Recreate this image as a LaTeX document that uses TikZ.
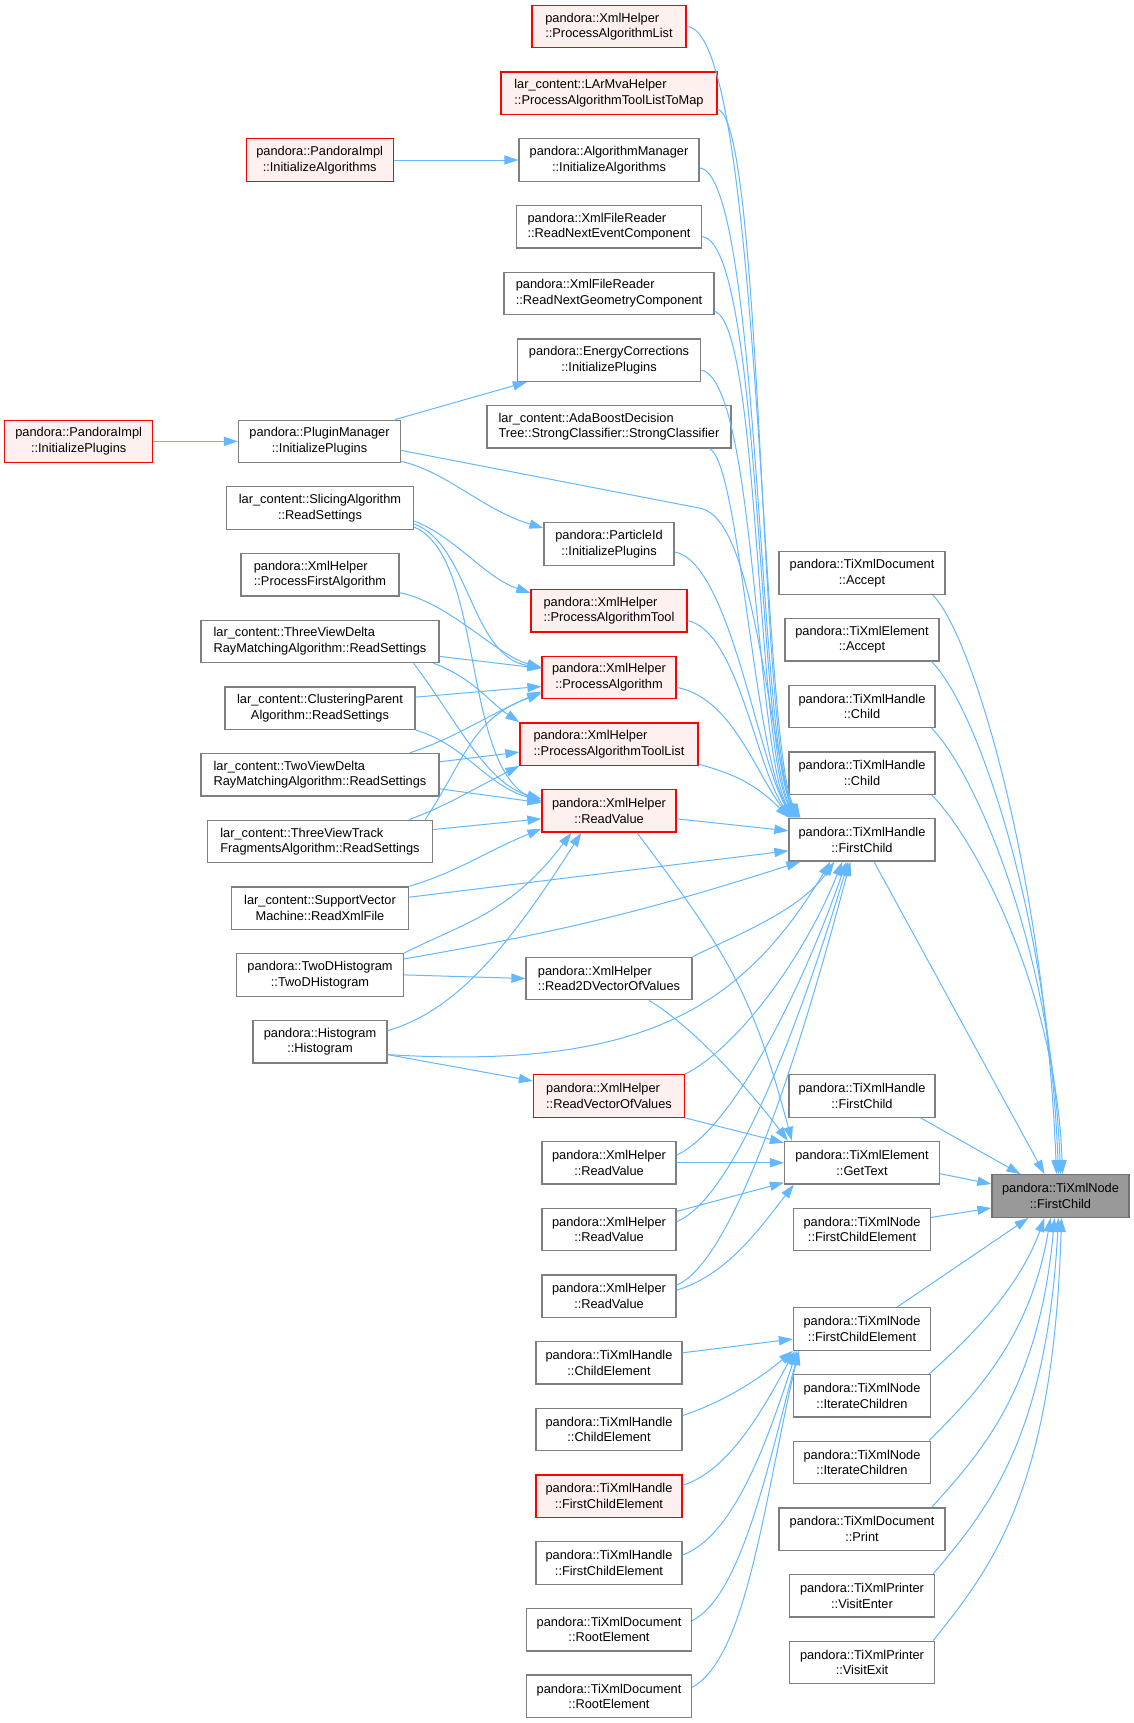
\documentclass[tikz,border=0pt]{standalone}
\usepackage{fontspec}
\setmainfont{Liberation Sans}
\usepackage{tikz}
\usetikzlibrary{arrows.meta}
\definecolor{edgeblue}{HTML}{63B8FF}
\definecolor{linegray}{HTML}{7F7F7F}
\definecolor{pinkfill}{HTML}{FFF0F0}
\definecolor{hubfill}{HTML}{999999}
\tikzstyle{graybox} = [rectangle, draw=linegray, fill=white, line width=0.65pt, minimum height=21.25pt, inner sep=0pt, align=center, font=\fontsize{6.4}{7.8}\selectfont]
\tikzstyle{redbox} = [graybox, draw=red, fill=pinkfill]
\tikzstyle{hubbox} = [graybox, draw=linegray!90!black, fill=hubfill]
\tikzstyle{arrow} = [draw=edgeblue, line width=0.5pt, ->, >={Triangle[length=7pt,width=4.6pt]}]

\begin{document}
\begin{tikzpicture}[x=0.5pt, y=-0.5pt, node distance=33.35pt]
      \useasboundingbox (0,0) rectangle (1134,1723);
      \fill [white] (0,0) rectangle (1134,1723);

      % middle column
      \node (procAlgList) [redbox, minimum width=77pt, align=left] at (609,26.6) {pandora::XmlHelper\\::ProcessAlgorithmList};
      \node (mvaToolMap) [redbox, minimum width=108pt, align=left, below of=procAlgList] {lar\_content::LArMvaHelper\\::ProcessAlgorithmToolListToMap};
      \node (algMgr) [graybox, minimum width=90pt, below of=mvaToolMap] {pandora::AlgorithmManager\\::InitializeAlgorithms};
      \node (readEvent) [graybox, minimum width=92.5pt, align=left, below of=algMgr] {pandora::XmlFileReader\\::ReadNextEventComponent};
      \node (readGeom) [graybox, minimum width=105pt, align=left, below of=readEvent] {pandora::XmlFileReader\\::ReadNextGeometryComponent};
      \node (energyCorr) [graybox, minimum width=91.5pt, below of=readGeom] {pandora::EnergyCorrections\\::InitializePlugins};
      \node (adaBoost) [graybox, minimum width=122pt, align=left, below of=energyCorr] {lar\_content::AdaBoostDecision\\Tree::StrongClassifier::StrongClassifier};

      \node (particleId) [graybox, minimum width=65pt] at (609,544) {pandora::ParticleId\\::InitializePlugins};
      \node (procAlgTool) [redbox, minimum width=78pt, align=left, below of=particleId] {pandora::XmlHelper\\::ProcessAlgorithmTool};
      \node (procAlg) [redbox, minimum width=67pt, below of=procAlgTool] {pandora::XmlHelper\\::ProcessAlgorithm};
      \node (procAlgToolList) [redbox, minimum width=89pt, align=left, below of=procAlg] {pandora::XmlHelper\\::ProcessAlgorithmToolList};
      \node (readValueR) [redbox, minimum width=67pt, below of=procAlgToolList] {pandora::XmlHelper\\::ReadValue};

      \node (read2D) [graybox, minimum width=83pt, align=left] at (609,978.5) {pandora::XmlHelper\\::Read2DVectorOfValues};
      \node (readVec) [redbox, minimum width=75.5pt, align=left] at (609,1096) {pandora::XmlHelper\\::ReadVectorOfValues};
      \node (readValueA) [graybox, minimum width=67pt, below of=readVec] {pandora::XmlHelper\\::ReadValue};
      \node (readValueB) [graybox, minimum width=67pt, below of=readValueA] {pandora::XmlHelper\\::ReadValue};
      \node (readValueC) [graybox, minimum width=67pt, below of=readValueB] {pandora::XmlHelper\\::ReadValue};
      \node (childElemA) [graybox, minimum width=73pt, below of=readValueC] {pandora::TiXmlHandle\\::ChildElement};
      \node (childElemB) [graybox, minimum width=73pt, below of=childElemA] {pandora::TiXmlHandle\\::ChildElement};
      \node (handleFCEa) [redbox, minimum width=73pt, below of=childElemB] {pandora::TiXmlHandle\\::FirstChildElement};
      \node (handleFCEb) [graybox, minimum width=73pt, below of=handleFCEa] {pandora::TiXmlHandle\\::FirstChildElement};
      \node (rootElemA) [graybox, minimum width=82.5pt, below of=handleFCEb] {pandora::TiXmlDocument\\::RootElement};
      \node (rootElemB) [graybox, minimum width=82.5pt, below of=rootElemA] {pandora::TiXmlDocument\\::RootElement};

      % left columns
      \node (pImplAlg) [redbox, minimum width=73.5pt] at (319.7,160) {pandora::PandoraImpl\\::InitializeAlgorithms};
      \node (pImplPlug) [redbox, minimum width=74pt] at (78.7,441.4) {pandora::PandoraImpl\\::InitializePlugins};
      \node (plugMgr) [graybox, minimum width=81pt] at (319.5,441.4) {pandora::PluginManager\\::InitializePlugins};
      \node (slicing) [graybox, minimum width=93.5pt] at (320,508) {lar\_content::SlicingAlgorithm\\::ReadSettings};
      \node (procFirst) [graybox, minimum width=79pt, align=left] at (320,574.7) {pandora::XmlHelper\\::ProcessFirstAlgorithm};
      \node (threeDelta) [graybox, minimum width=119pt, align=left, below of=procFirst] {lar\_content::ThreeViewDelta\\RayMatchingAlgorithm::ReadSettings};
      \node (clustering) [graybox, minimum width=95pt, below of=threeDelta] {lar\_content::ClusteringParent\\Algorithm::ReadSettings};
      \node (twoDelta) [graybox, minimum width=119pt, align=left, below of=clustering] {lar\_content::TwoViewDelta\\RayMatchingAlgorithm::ReadSettings};
      \node (threeTrack) [graybox, minimum width=112.5pt, align=left, below of=twoDelta] {lar\_content::ThreeViewTrack\\FragmentsAlgorithm::ReadSettings};
      \node (svm) [graybox, minimum width=88.5pt, below of=threeTrack] {lar\_content::SupportVector\\Machine::ReadXmlFile};
      \node (twoDHist) [graybox, minimum width=83.5pt, below of=svm] {pandora::TwoDHistogram\\::TwoDHistogram};
      \node (hist) [graybox, minimum width=67pt, below of=twoDHist] {pandora::Histogram\\::Histogram};

      % right column
      \node (docAccept) [graybox, minimum width=83pt] at (862,573) {pandora::TiXmlDocument\\::Accept};
      \node (elemAccept) [graybox, minimum width=77pt, below of=docAccept] {pandora::TiXmlElement\\::Accept};
      \node (handleChildA) [graybox, minimum width=73pt, below of=elemAccept] {pandora::TiXmlHandle\\::Child};
      \node (handleChildB) [graybox, minimum width=73pt, below of=handleChildA] {pandora::TiXmlHandle\\::Child};
      \node (handleFC) [graybox, minimum width=73pt, below of=handleChildB] {pandora::TiXmlHandle\\::FirstChild};
      \node (handleFCb) [graybox, minimum width=73pt] at (862,1096) {pandora::TiXmlHandle\\::FirstChild};
      \node (getText) [graybox, minimum width=77.5pt, below of=handleFCb] {pandora::TiXmlElement\\::GetText};
      \node (nodeFCEa) [graybox, minimum width=68.5pt, below of=getText] {pandora::TiXmlNode\\::FirstChildElement};
      \node (nodeFCEb) [graybox, minimum width=68.5pt] at (862,1329) {pandora::TiXmlNode\\::FirstChildElement};
      \node (iterA) [graybox, minimum width=68.5pt, below of=nodeFCEb] {pandora::TiXmlNode\\::IterateChildren};
      \node (iterB) [graybox, minimum width=68.5pt, below of=iterA] {pandora::TiXmlNode\\::IterateChildren};
      \node (docPrint) [graybox, minimum width=83pt, below of=iterB] {pandora::TiXmlDocument\\::Print};
      \node (visitEnter) [graybox, minimum width=72.5pt, below of=docPrint] {pandora::TiXmlPrinter\\::VisitEnter};
      \node (visitExit) [graybox, minimum width=72.5pt, below of=visitEnter] {pandora::TiXmlPrinter\\::VisitExit};
      \node (firstChild) [hubbox, minimum width=68.5pt] at (1060.5,1196) {pandora::TiXmlNode\\::FirstChild};

      \draw [arrow] (pImplAlg) -- (algMgr);
      \draw [arrow] (pImplPlug) -- (plugMgr);
      \draw [arrow] ([xshift=-3pt]plugMgr.north east) -- ([xshift=5pt]energyCorr.south west);
      \draw [arrow] ([yshift=-10pt]plugMgr.east) .. controls +(45,10) and +(-60,-18) .. ([yshift=-3pt]particleId.north west);

      \draw [arrow] ([yshift=-6.5pt]slicing.east) .. controls +(40,15) and +(-45,-15) .. ([yshift=-2pt]procAlgTool.north west);
      \draw [arrow] ([yshift=-8pt]slicing.east) .. controls +(55,20) and +(-70,-10) .. ([yshift=5pt]procAlg.west);
      \draw [arrow] ([yshift=-9.5pt]slicing.east) .. controls +(70,30) and +(-80,-40) .. ([yshift=4pt]readValueR.west);
      \draw [arrow] ([yshift=-9pt]procFirst.east) .. controls +(50,10) and +(-45,-12) .. ([yshift=5pt]procAlg.west);
      \draw [arrow] ([yshift=-7.5pt]threeDelta.east) -- ([yshift=4.5pt]procAlg.west);
      \draw [arrow] ([xshift=-3pt]threeDelta.south east) .. controls +(40,15) and +(-30,-20) .. (procAlgToolList.north west);
      \draw [arrow] ([xshift=-13pt]threeDelta.south east) .. controls +(45,60) and +(-55,-15) .. ([yshift=6pt]readValueR.west);
      \draw [arrow] ([yshift=5.5pt]clustering.east) -- ([yshift=-4.5pt]procAlg.west);
      \draw [arrow] (clustering.south east) .. controls +(50,15) and +(-55,-15) .. ([yshift=5pt]readValueR.west);
      \draw [arrow] ([xshift=-15pt]twoDelta.north east) .. controls +(45,-15) and +(-65,30) .. ([yshift=-7pt]procAlg.west);
      \draw [arrow] ([yshift=6.5pt]twoDelta.east) -- ([yshift=-4pt]procAlgToolList.west);
      \draw [arrow] ([yshift=-7pt]twoDelta.east) -- ([yshift=4pt]readValueR.west);
      \draw [arrow] ([xshift=-4pt]threeTrack.north east) .. controls +(40,-60) and +(-70,25) .. ([yshift=-8pt]procAlg.west);
      \draw [arrow] ([xshift=-12pt]threeTrack.north east) .. controls +(40,-15) and +(-50,25) .. (procAlgToolList.south west);
      \draw [arrow] ([yshift=6pt]threeTrack.east) -- ([yshift=-4pt]readValueR.west);
      \draw [arrow] (svm.north east) .. controls +(50,-15) and +(-60,25) .. ([yshift=2pt]readValueR.south west);
      \draw [arrow] (twoDHist.north east) .. controls +(60,-30) and +(-60,80) .. ([xshift=15pt]readValueR.south west);
      \draw [arrow] ([yshift=5.5pt]hist.east) .. controls +(70,-20) and +(-70,110) .. ([xshift=20pt]readValueR.south west);
      \draw [arrow] (twoDHist.east) -- (read2D.west);
      \draw [arrow] ([yshift=-6.5pt]hist.east) -- ([yshift=7.5pt]readVec.west);

      % callers of TiXmlHandle::FirstChild
      \draw [arrow] (procAlgList.east) .. controls +(75,0) and +(-40,-70) .. ([xshift=6pt]handleFC.north west);
      \draw [arrow] ([yshift=-8pt]mvaToolMap.east) .. controls +(45,10) and +(-40,-70) .. ([xshift=5.5pt]handleFC.north west);
      \draw [arrow] ([yshift=-4pt]algMgr.east) .. controls +(60,5) and +(-40,-70) .. ([xshift=5pt]handleFC.north west);
      \draw [arrow] ([yshift=-5pt]readEvent.east) .. controls +(60,5) and +(-40,-65) .. ([xshift=4.5pt]handleFC.north west);
      \draw [arrow] ([yshift=-9pt]readGeom.east) .. controls +(45,12) and +(-40,-65) .. ([xshift=4pt]handleFC.north west);
      \draw [arrow] ([yshift=-5pt]energyCorr.east) .. controls +(55,10) and +(-40,-60) .. ([xshift=3.5pt]handleFC.north west);
      \draw [arrow] ([xshift=-11pt]adaBoost.south east) .. controls +(30,15) and +(-40,-60) .. ([xshift=3pt]handleFC.north west);
      \draw [arrow] ([yshift=-4.5pt]plugMgr.east) -- +(300,58) .. controls +(50,12) and +(-30,-120) .. ([xshift=2.5pt]handleFC.north west);
      \draw [arrow] ([yshift=-4pt]particleId.east) .. controls +(55,10) and +(-35,-60) .. ([xshift=2pt]handleFC.north west);
      \draw [arrow] ([yshift=-5pt]procAlgTool.east) .. controls +(50,10) and +(-35,-50) .. ([xshift=1.5pt]handleFC.north west);
      \draw [arrow] ([yshift=-5pt]procAlg.east) .. controls +(55,10) and +(-35,-45) .. ([xshift=1pt]handleFC.north west);
      \draw [arrow] ([yshift=-10pt]procAlgToolList.east) .. controls +(35,10) and +(-35,-35) .. ([xshift=0.5pt]handleFC.north west);
      \draw [arrow] ([yshift=-4pt]readValueR.east) -- ([yshift=4.5pt]handleFC.west);
      \draw [arrow] ([yshift=5.5pt]svm.east) -- ([yshift=-5.5pt]handleFC.west);
      \draw [arrow] ([yshift=8pt]twoDHist.east) to [bend right=4] ([xshift=6pt]handleFC.south west);
      \draw [arrow] ([yshift=-6.5pt]hist.east) .. controls +(250,15) and +(-90,150) .. ([xshift=21pt]handleFC.south west);
      \draw [arrow] (read2D.north east) .. controls +(40,-20) and +(-35,50) .. ([xshift=23pt]handleFC.south west);
      \draw [arrow] (readVec.north east) .. controls +(50,-25) and +(-40,100) .. ([xshift=27pt]handleFC.south west);
      \draw [arrow] ([yshift=3.85pt]readValueA.east) .. controls +(55,-25) and +(-45,130) .. ([xshift=29pt]handleFC.south west);
      \draw [arrow] ([yshift=3.85pt]readValueB.east) .. controls +(60,-25) and +(-45,150) .. ([xshift=30pt]handleFC.south west);
      \draw [arrow] ([yshift=5.5pt]readValueC.east) .. controls +(60,-25) and +(-45,170) .. ([xshift=31pt]handleFC.south west);

      % callers of TiXmlElement::GetText
      \draw [arrow] ([xshift=14pt]readValueR.south) .. controls +(90,120) and +(-40,-150) .. ([xshift=4pt]getText.north west);
      \draw [arrow] ([xshift=20pt]read2D.south) .. controls +(50,30) and +(-30,-40) .. ([xshift=2pt]getText.north west);
      \draw [arrow] (readVec.south east) -- ([yshift=-1pt]getText.north west);
      \draw [arrow] (readValueA.east) -- (getText.west);
      \draw [arrow] ([yshift=9pt]readValueB.east) -- ([yshift=1pt]getText.south west);
      \draw [arrow] ([yshift=3pt]readValueC.east) .. controls +(50,-15) and +(-35,45) .. ([xshift=5pt]getText.south west);

      % callers of TiXmlNode::FirstChildElement
      \draw [arrow] ([yshift=5pt]childElemA.east) -- ([yshift=-5pt]nodeFCEb.west);
      \draw [arrow] ([yshift=7pt]childElemB.east) .. controls +(45,-15) and +(-30,25) .. (nodeFCEb.south west);
      \draw [arrow] ([yshift=5.5pt]handleFCEa.east) .. controls +(50,-15) and +(-25,45) .. ([xshift=1pt]nodeFCEb.south west);
      \draw [arrow] ([yshift=4pt]handleFCEb.east) .. controls +(55,-20) and +(-25,75) .. ([xshift=2pt]nodeFCEb.south west);
      \draw [arrow] ([yshift=4.5pt]rootElemA.east) .. controls +(50,-25) and +(-30,110) .. ([xshift=3pt]nodeFCEb.south west);
      \draw [arrow] ([yshift=4.5pt]rootElemB.east) .. controls +(55,-30) and +(-35,150) .. ([xshift=3pt]nodeFCEb.south west);

      % callers of TiXmlNode::FirstChild
      \draw [arrow] ([xshift=-6.5pt]docAccept.south east) .. controls +(40,40) and +(-12,-300) .. ([xshift=-2pt]firstChild.north);
      \draw [arrow] ([xshift=-4pt]elemAccept.south east) .. controls +(45,45) and +(-10,-260) .. ([xshift=-1pt]firstChild.north);
      \draw [arrow] ([xshift=-2pt]handleChildA.south east) .. controls +(45,45) and +(-8,-220) .. (firstChild.north);
      \draw [arrow] ([xshift=-2pt]handleChildB.south east) .. controls +(45,45) and +(-6,-180) .. ([xshift=1pt]firstChild.north);
      \draw [arrow] ([xshift=6pt]handleFC.south) -- ([xshift=-8pt]firstChild.north);
      \draw [arrow] ([xshift=-7.5pt]handleFCb.south east) -- ([xshift=-20pt]firstChild.north);
      \draw [arrow] ([yshift=-5.5pt]getText.east) -- ([yshift=6pt]firstChild.west);
      \draw [arrow] ([yshift=6pt]nodeFCEa.east) -- ([yshift=-6pt]firstChild.west);
      \draw [arrow] ([xshift=17.5pt]nodeFCEb.north) -- ([xshift=-16pt]firstChild.south);
      \draw [arrow] ([xshift=-1pt]iterA.north east) .. controls +(40,-35) and +(-25,70) .. ([xshift=-8pt]firstChild.south);
      \draw [arrow] ([xshift=-1pt]iterB.north east) .. controls +(45,-45) and +(-20,120) .. ([xshift=-5pt]firstChild.south);
      \draw [arrow] ([xshift=-7pt]docPrint.north east) .. controls +(50,-55) and +(-15,170) .. ([xshift=-3pt]firstChild.south);
      \draw [arrow] ([xshift=-1pt]visitEnter.north east) .. controls +(55,-65) and +(-12,220) .. ([xshift=-1pt]firstChild.south);
      \draw [arrow] ([xshift=-1pt]visitExit.north east) .. controls +(60,-75) and +(-8,270) .. ([xshift=0.5pt]firstChild.south);
    \end{tikzpicture}
\end{document}
